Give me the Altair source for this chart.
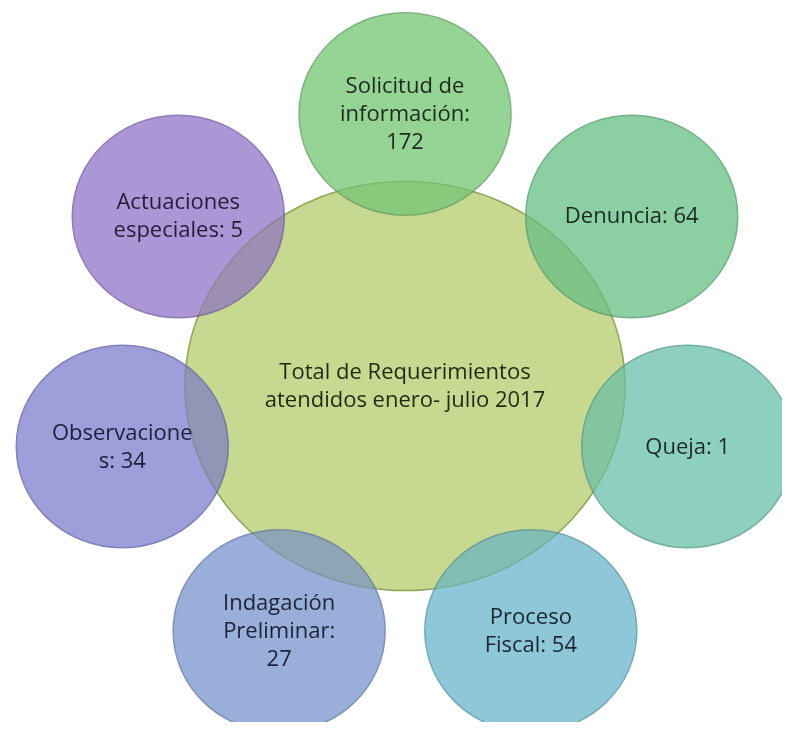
import altair as alt
import pandas as pd
import numpy as np

# ---- data ----
center_label = ["Total de Requerimientos", "atendidos enero- julio 2017"]
categories = ["Solicitud de información", "Denuncia", "Queja", "Proceso Fiscal",
              "Indagación Preliminar", "Observaciones", "Actuaciones especiales"]
values = [172, 64, 1, 54, 27, 34, 5]
label_lines = [["Solicitud de", "información:", "172"],
               ["Denuncia: 64"],
               ["Queja: 1"],
               ["Proceso", "Fiscal: 54"],
               ["Indagación", "Preliminar:", "27"],
               ["Observacione", "s: 34"],
               ["Actuaciones", "especiales: 5"]]

# ---- style ----
fills = ["#95d495", "#8bcfa2", "#8ed0bf", "#8ec8d8", "#9aaeda", "#9d9eda", "#ab96d6"]
strokes = ["#7fb47f", "#74b08a", "#76b0a2", "#76a9b8", "#8092ba", "#8283ba", "#8f7cb6"]
text_cols = ["#1c2a1c", "#1a2a20", "#1a2a28", "#1a2630", "#1c2238", "#1e1e3a", "#241d38"]
main_fill = "#d8e5ac"
main_stroke = "#aebf78"
LH = 28

W, H = 774, 714
cx, cy = 397, 378          # layout centre (plot px)
Rx, Ry = 290, 272          # ring radii
n = len(categories)
ang = np.deg2rad(90 - np.arange(n) * 360 / n)

sat = pd.DataFrame({
    "category": categories,
    "value": values,
    "label": label_lines,
    "x": cx + Rx * np.cos(ang),
    "y": cy - Ry * np.sin(ang),
    "tcol": text_cols,
})
sat["ty"] = sat["y"] - (sat["label"].apply(len) - 1) / 2 * LH
main = pd.DataFrame({"x": [cx], "y": [cy], "label": [center_label]})
main["ty"] = main["y"] - (len(center_label) - 1) / 2 * LH

xs = alt.Scale(domain=[0, W], range=[0, W], nice=False, zero=False)
ys = alt.Scale(domain=[0, H], reverse=True, nice=False, zero=False)
X = alt.X("x:Q", scale=xs, axis=None)
Y = alt.Y("y:Q", scale=ys, axis=None)
TY = alt.Y("ty:Q", scale=ys, axis=None)

main_shape = "M -1 0 A 1 0.93 0 1 0 1 0 A 1 0.93 0 1 0 -1 0 Z"
sat_shape = "M -1 0 A 1 0.955 0 1 0 1 0 A 1 0.955 0 1 0 -1 0 Z"

base_main = alt.Chart(main).mark_point(
    shape=main_shape, size=440 ** 2, filled=True, fill=main_fill,
    stroke=main_stroke, strokeWidth=1.5, opacity=1
).encode(x=X, y=Y)

sats = alt.Chart(sat).mark_point(
    shape=sat_shape, size=212 ** 2, filled=True, opacity=1, strokeWidth=1.5
).encode(
    x=X, y=Y,
    fill=alt.Fill("category:N", scale=alt.Scale(domain=categories, range=fills), legend=None),
    stroke=alt.Stroke("category:N", scale=alt.Scale(domain=categories, range=strokes), legend=None),
)

overlay = alt.Chart(main).mark_point(
    shape=main_shape, size=440 ** 2, filled=True, fill=main_fill,
    stroke=main_stroke, strokeWidth=1.5, opacity=0.5, blend="multiply"
).encode(x=X, y=Y)

font = "Open Sans"
sat_text = alt.Chart(sat).mark_text(
    font=font, fontSize=22, lineHeight=LH, align="center", baseline="middle"
).encode(
    x=X, y=TY, text="label",
    color=alt.Color("tcol:N", scale=None),
)
main_text = alt.Chart(main).mark_text(
    font=font, fontSize=22, lineHeight=LH, align="center", baseline="middle",
    color="#1f2a12"
).encode(x=X, y=TY, text="label")

chart = alt.layer(base_main, sats, overlay, sat_text, main_text).properties(
    width=W, height=H, padding=0, autosize=alt.AutoSizeParams(type="none")
).configure_view(stroke=None)

chart.save("out.html", embed_options={"renderer": "svg", "actions": False})
